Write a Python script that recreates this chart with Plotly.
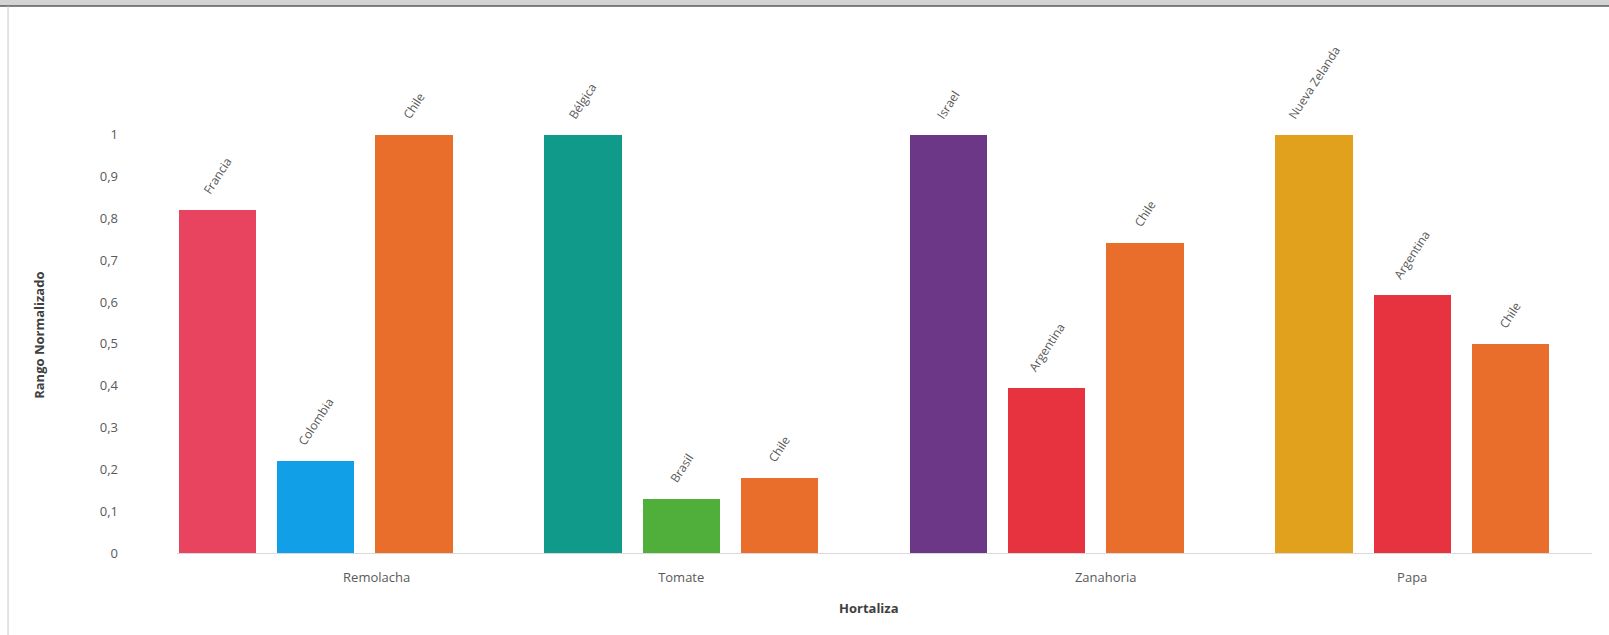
import plotly.graph_objects as go

# ---------------- data ----------------
vegetables = ["Remolacha", "Tomate", "Zanahoria", "Papa"]
countries = [
    ["Francia", "Colombia", "Chile"],
    ["Bélgica", "Brasil", "Chile"],
    ["Israel", "Argentina", "Chile"],
    ["Nueva Zelanda", "Argentina", "Chile"],
]
values = [
    [0.82, 0.22, 1.0],
    [1.0, 0.13, 0.18],
    [1.0, 0.395, 0.742],
    [1.0, 0.617, 0.5],
]
y_tick_vals = [0, 0.1, 0.2, 0.3, 0.4, 0.5, 0.6, 0.7, 0.8, 0.9, 1]
y_tick_text = ["0", "0,1", "0,2", "0,3", "0,4", "0,5", "0,6", "0,7", "0,8", "0,9", "1"]

# ---------------- style ----------------
country_colors = {
    "Francia": "#E8435F",
    "Colombia": "#11A0E8",
    "Chile": "#EA6E2B",
    "Bélgica": "#0F9A8A",
    "Brasil": "#4FAF3A",
    "Israel": "#6C3787",
    "Argentina": "#E6333F",
    "Nueva Zelanda": "#E1A11C",
}
group_stride = 3.72      # slots between group starts
bar_width = 0.785
label_shift = [0.62, 0.0, 0.6, 0.0]   # visual shift of category labels
tick_color = "#595959"
title_color = "#404040"
font_family = "Open Sans"

xs, ys, cols, texts = [], [], [], []
tickpos = []
for g, veg in enumerate(vegetables):
    start = g * group_stride
    for i, (c, v) in enumerate(zip(countries[g], values[g])):
        xs.append(start + i)
        ys.append(v)
        cols.append(country_colors[c])
        texts.append(c)
    tickpos.append(start + (len(countries[g]) - 1) / 2 + label_shift[g])

fig = go.Figure()
fig.add_trace(go.Bar(
    x=xs, y=ys, width=bar_width,
    marker=dict(color=cols, line=dict(width=0)),
    hovertext=texts, hoverinfo="text+y",
    showlegend=False,
))

annotations = []
for x, y, t in zip(xs, ys, texts):
    annotations.append(dict(
        x=x, y=y, xref="x", yref="y", text=t, showarrow=False,
        textangle=-57, xanchor="center", yanchor="bottom", yshift=10,
        font=dict(family=font_family, size=12, color=tick_color),
    ))
# axis titles
annotations.append(dict(
    x=-0.098, y=0.5, xref="paper", yref="paper", text="<b>Rango Normalizado</b>",
    showarrow=False, textangle=-90, xanchor="center", yanchor="middle",
    font=dict(family=font_family, size=13, color=title_color),
))
annotations.append(dict(
    x=0.489, y=-0.127, xref="paper", yref="paper", text="<b>Hortaliza</b>",
    showarrow=False, xanchor="center", yanchor="middle",
    font=dict(family=font_family, size=13, color=title_color),
))

shapes = [
    # top grey band and dark rule
    dict(type="rect", xref="paper", yref="paper", x0=-0.2, x1=1.2, y0=1.2575, y1=1.35,
         fillcolor="#D3D3D3", line=dict(width=0), layer="above"),
    dict(type="line", xref="paper", yref="paper", x0=-0.2, x1=1.2, y0=1.2575, y1=1.2575,
         line=dict(color="#5A5A5A", width=1.5), layer="above"),
    # left frame line
    dict(type="line", xref="paper", yref="paper", x0=-0.1194, x1=-0.1194, y0=-0.2, y1=1.2575,
         line=dict(color="#C8C8C8", width=1), layer="above"),
]

fig.update_layout(
    width=1609, height=635,
    margin=dict(l=177, r=17, t=118, b=82),
    paper_bgcolor="white", plot_bgcolor="white",
    bargap=0,
    annotations=annotations,
    shapes=shapes,
    font=dict(family=font_family, color=tick_color),
    xaxis=dict(
        range=[-0.412, 13.99],
        tickvals=tickpos, ticktext=vegetables,
        showgrid=False, zeroline=False,
        showline=True, linecolor="#D9D9D9", linewidth=1,
        ticks="", ticklabelstandoff=12,
        tickfont=dict(family=font_family, size=13, color=tick_color),
    ),
    yaxis=dict(
        range=[0, 1.04],
        tickvals=y_tick_vals, ticktext=y_tick_text,
        showgrid=False, zeroline=False, showline=False,
        ticks="", ticklabelstandoff=58,
        tickfont=dict(family=font_family, size=13, color=tick_color),
    ),
)

fig.write_html(
    "out.html",
    config={"displayModeBar": False},
    post_script="document.body.style.margin='0';document.body.style.overflow='hidden';",
)
